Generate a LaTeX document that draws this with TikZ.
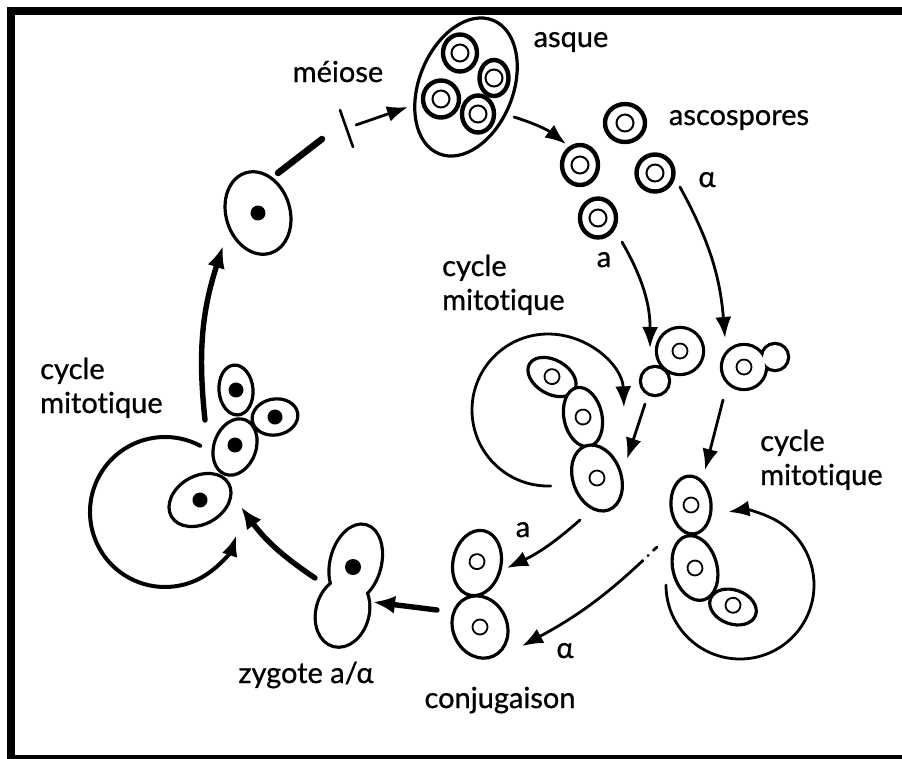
\documentclass[tikz,border=0pt]{standalone}
\usepackage{fontspec}
\setmainfont{Lato}[Ligatures=CommonOff, BoldFont=Lato, BoldFeatures={FakeBold=0.8}]
\usetikzlibrary{arrows.meta, shapes.geometric}

\tikzset{
  cell/.style={ellipse, draw, line width=3.2pt, fill=white, inner sep=0pt},
  hap/.style={cell, path picture={\draw[line width=1.8pt] (path picture bounding box.center) circle (7.5pt);}},
  dip/.style={cell, path picture={\fill[black] (path picture bounding box.center) circle (7.5pt);}},
  spore/.style={ellipse, draw, line width=4.4pt, fill=white, inner sep=0pt,
    minimum width=34pt, minimum height=37pt,
    path picture={\draw[line width=2pt] (path picture bounding box.center) circle (8.5pt);}},
  lab/.style={font=\fontsize{29}{34}\selectfont\bfseries, inner sep=0pt},
  flow/.style={-{Latex[length=21pt,width=16pt]}, line width=2.8pt},
  bigflow/.style={-{Latex[length=22pt,width=18pt]}, line width=5.4pt},
}

\begin{document}
\begin{tikzpicture}[x=1pt, y=-1pt, line cap=round]
\useasboundingbox (0,0) rectangle (902,758);
\draw[line width=8pt, line cap=butt] (11,11) rectangle (916,759);

% arrow ends
\coordinate (cut1) at (278,173);  \coordinate (cut2) at (322,139);
\coordinate (bar1) at (340,110);  \coordinate (bar2) at (353,147);
\coordinate (mei) at (356,125);   \coordinate (ask) at (408,107);
\coordinate (askout) at (514,117); \coordinate (spin) at (566,144);
\coordinate (aout) at (622,242);  \coordinate (ain) at (650,348);
\coordinate (alout) at (680,187); \coordinate (alin) at (725,338);
\coordinate (ba1) at (645,404);   \coordinate (ba2) at (627,459);
\coordinate (bb1) at (723,400);   \coordinate (bb2) at (705,470);
\coordinate (ca1) at (580,520);   \coordinate (ca2) at (507,568);
\coordinate (cb1) at (657,547);   \coordinate (cb2) at (522,646);
\coordinate (cz1) at (437,610);   \coordinate (cz2) at (373,602);
\coordinate (zd1) at (315,578);   \coordinate (zd2) at (241,507);
\coordinate (dt1) at (205,420);   \coordinate (dt2) at (223,246);
% centres of the mitotic cycles
\coordinate (cycA) at (548,410);
\coordinate (cycB) at (740,585);
\coordinate (cycD) at (165,512);

% connectors
\draw[line width=6.5pt] (cut1) -- (cut2);
\draw[line width=2.6pt] (bar1) -- (bar2);
\draw[flow] (mei) -- (ask);
\draw[flow] (askout) to[bend left=10] (spin);
\draw[flow] (aout) to[bend left=15] (ain);
\draw[flow] (alout) to[bend left=12] (alin);
\draw[flow] (ba1) -- (ba2);
\draw[flow] (bb1) -- (bb2);
\draw[flow] (ca1) to[bend left=8] (ca2);
\draw[flow, dash pattern=on 5pt off 7pt on 0.5pt off 7pt on 400pt] (cb1) to[bend left=8] (cb2);
\draw[bigflow] (cz1) -- (cz2);
\draw[bigflow] (zd1) to[bend left=10] (zd2);
\draw[bigflow] (dt1) to[bend left=12] (dt2);

\draw[flow] (cycA) ++(88:76) arc[start angle=88, end angle=358, radius=76];
\draw[flow] (cycB) ++(180:74) arc[start angle=180, end angle=-99, radius=74];
\draw[flow, line width=4pt] (cycD) ++(-62:75) arc[start angle=-62, end angle=-342, radius=75];

% diploid cell and asque
\node[dip, minimum width=64pt, minimum height=84pt, rotate=17] (dcell) at (258,213) {};
\node[cell, minimum width=94pt, minimum height=144pt, rotate=-22] (asque) at (466,87) {};
\node[spore] (s1) at (460,53) {};
\node[spore, minimum width=29pt, minimum height=36pt] (s2) at (494,78) {};
\node[spore, minimum width=36pt] (s3) at (441,99) {};
\node[spore, minimum width=32pt] (s4) at (478,114) {};

% ascospores
\node[spore, minimum width=40pt, minimum height=38pt] (p1) at (625,123) {};
\node[spore, minimum width=36pt, minimum height=40pt] (p2) at (580,165) {};
\node[spore, minimum width=37pt, minimum height=37pt] (p3) at (655,173) {};
\node[spore, minimum width=36pt, minimum height=39pt] (p4) at (598,218) {};

% budding cells
\coordinate (budA) at (680,351); \coordinate (tipA) at (655,381);
\draw[line width=6.4pt] (budA) circle (22) (tipA) circle (13);
\fill[white] (budA) circle (22) (tipA) circle (13);
\draw[line width=1.8pt] (budA) circle (7.5);
\coordinate (budB) at (744,367); \coordinate (tipB) at (775,357);
\draw[line width=6.4pt] (budB) circle (21) (tipB) circle (12);
\fill[white] (budB) circle (21) (tipB) circle (12);
\draw[line width=1.8pt] (budB) circle (7.5);

% mitotic chains a and alpha
\node[hap, minimum width=52pt, minimum height=34pt, rotate=-30] (a1) at (552,377) {};
\node[hap, minimum width=38pt, minimum height=60pt, rotate=12] (a2) at (583,417) {};
\node[hap, minimum width=48pt, minimum height=68pt, rotate=20] (a3) at (597,478) {};
\node[hap, minimum width=40pt, minimum height=58pt, rotate=5] (b1) at (691,505) {};
\node[hap, minimum width=44pt, minimum height=66pt, rotate=15] (b2) at (695,568) {};
\node[hap, minimum width=48pt, minimum height=34pt, rotate=-20] (b3) at (733,607) {};

% conjugation
\node[hap, minimum width=48pt, minimum height=66pt, rotate=-12] (c1) at (477,563) {};
\node[hap, minimum width=54pt, minimum height=64pt, rotate=25] (c2) at (480,627) {};

% zygote
\begin{scope}[rotate around={-15:(349,588)}]
  \draw[line width=6.4pt] (349,562) ellipse [x radius=24, y radius=38]
    (349,613) ellipse [x radius=25, y radius=34];
  \fill[white] (349,562) ellipse [x radius=24, y radius=38]
    (349,613) ellipse [x radius=25, y radius=34];
\end{scope}
\fill (353,567) circle (8);

% diploid chain
\node[dip, minimum width=34pt, minimum height=50pt, rotate=5] (d3) at (236,390) {};
\node[dip, minimum width=46pt, minimum height=36pt, rotate=10] (d4) at (275,417) {};
\node[dip, minimum width=42pt, minimum height=58pt, rotate=-20] (d2) at (235,447) {};
\node[dip, minimum width=66pt, minimum height=48pt, rotate=30] (d1) at (200,500) {};

% labels
\node[lab, anchor=base] (lmei) at (338,82) {méiose};
\node[lab, anchor=base] (lasq) at (571,47) {asque};
\node[lab, anchor=base] (lasc) at (739,125) {ascospores};
\node[lab, anchor=base] (lal1) at (707,187) {α};
\node[lab, anchor=base] (la1) at (604,267) {a};
\node[lab, anchor=base west, align=left] (lcycA) at (442,310) {cycle\\mitotique};
\node[lab, anchor=base west, align=left] (lcycD) at (40,413) {cycle\\mitotique};
\node[lab, anchor=base west, align=left] (lcycB) at (760,485) {cycle\\mitotique};
\node[lab, anchor=base] (la2) at (523,537) {a};
\node[lab, anchor=base] (lal2) at (565,658) {α};
\node[lab, anchor=base] (lconj) at (500,708) {conjugaison};
\node[lab, anchor=base] (lzyg) at (306,683) {zygote a/α};
\end{tikzpicture}
\end{document}
